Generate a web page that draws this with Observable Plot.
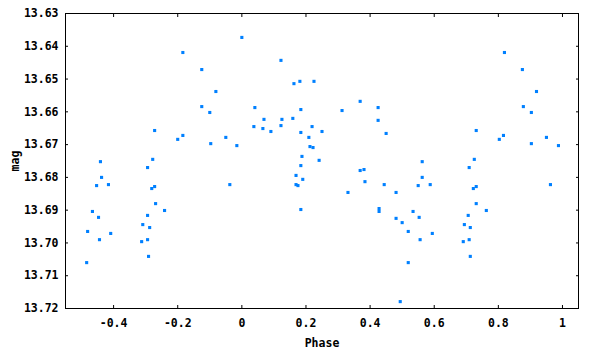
<!DOCTYPE html>
<html>
<head>
<meta charset="utf-8">
<script src="https://cdn.jsdelivr.net/npm/d3@7"></script>
<script src="https://cdn.jsdelivr.net/npm/@observablehq/plot@0.6"></script>
<style>
  html, body { margin: 0; padding: 0; background: #fff; }
</style>
</head>
<body>
<div id="chart"></div>
<script>
const phase = [
  -0.484, -0.481, -0.466, -0.453, -0.447, -0.444, -0.441, -0.4375, -0.416, -0.409,
  -0.3125, -0.309, -0.294, -0.294, -0.294, -0.291, -0.2875, -0.281, -0.278, -0.272, -0.272, -0.269, -0.241,
  -0.2, -0.184, -0.184, -0.125, -0.125, -0.1, -0.097, -0.081, -0.05, -0.0375, -0.0156, 0.0,
  0.0375, 0.0406, 0.0656, 0.069, 0.0906, 0.122, 0.122, 0.125, 0.159, 0.1625, 0.169, 0.169, 0.175, 0.181,
  0.184, 0.184, 0.184, 0.1875, 0.184, 0.19, 0.209, 0.2125, 0.219, 0.222, 0.225, 0.241, 0.25,
  0.3125, 0.331, 0.369, 0.369, 0.381, 0.384, 0.425, 0.425, 0.428, 0.428, 0.444, 0.45, 0.481, 0.481, 0.494, 0.5,
  0.519, 0.519, 0.534, 0.55, 0.553, 0.556, 0.5625, 0.5625, 0.5875, 0.594,
  0.6906, 0.694, 0.706, 0.709, 0.709, 0.7125, 0.7125, 0.722, 0.725, 0.731, 0.731, 0.731, 0.7625,
  0.803, 0.816, 0.819, 0.875, 0.878, 0.903, 0.903, 0.919, 0.95, 0.9625, 0.9875
];
const mag = [
  13.7060, 13.6965, 13.6904, 13.6825, 13.6922, 13.6990, 13.6752, 13.6800, 13.6822, 13.6971,
  13.6996, 13.6944, 13.6916, 13.6990, 13.6770, 13.7041, 13.6953, 13.6834, 13.6745, 13.6828, 13.6657, 13.6880, 13.6901,
  13.6684, 13.6672, 13.6419, 13.6471, 13.6584, 13.6602, 13.6697, 13.6538, 13.6678, 13.6822, 13.6703, 13.6373,
  13.6645, 13.6587, 13.6651, 13.6623, 13.6660, 13.6443, 13.6642, 13.6623, 13.6620, 13.6514, 13.6794, 13.6822, 13.6825, 13.6507,
  13.6593, 13.6663, 13.6764, 13.6736, 13.6898, 13.6806, 13.6678, 13.6706, 13.6645, 13.6709, 13.6507, 13.6748, 13.6660,
  13.6596, 13.6846, 13.6568, 13.6779, 13.6776, 13.6813, 13.6587, 13.6626, 13.6895, 13.6904, 13.6822, 13.6666, 13.6846, 13.6925, 13.7179, 13.6938,
  13.6965, 13.7060, 13.6904, 13.6825, 13.6922, 13.6990, 13.6752, 13.6800, 13.6822, 13.6971,
  13.6996, 13.6944, 13.6916, 13.6990, 13.6770, 13.7041, 13.6953, 13.6834, 13.6745, 13.6828, 13.6657, 13.6880, 13.6901,
  13.6684, 13.6672, 13.6419, 13.6471, 13.6584, 13.6602, 13.6697, 13.6538, 13.6678, 13.6822, 13.6703
];
const xTicks = [-0.4, -0.2, 0, 0.2, 0.4, 0.6, 0.8, 1];
const xTickLabels = ["-0.4", "-0.2", "0", "0.2", "0.4", "0.6", "0.8", "1"];
const yTicks = [13.63, 13.64, 13.65, 13.66, 13.67, 13.68, 13.69, 13.70, 13.71, 13.72];
const yTickLabels = ["13.63", "13.64", "13.65", "13.66", "13.67", "13.68", "13.69", "13.70", "13.71", "13.72"];

const data = phase.map((p, i) => ({phase: p, mag: mag[i]}));
const fx = d => xTickLabels[xTicks.findIndex(t => Math.abs(t - d) < 1e-9)];
const fy = d => yTickLabels[yTicks.findIndex(t => Math.abs(t - d) < 1e-9)];
const blank = () => "";

const chart = Plot.plot({
  width: 600,
  height: 350,
  marginLeft: 65,
  marginRight: 22,
  marginTop: 13,
  marginBottom: 42,
  style: {
    fontFamily: "'DejaVu Sans Mono', monospace",
    fontWeight: "bold",
    fontSize: "11.5px",
    color: "black",
    background: "white",
    overflow: "visible"
  },
  x: {domain: [-0.55, 1.05]},
  y: {domain: [13.63, 13.72], reverse: true},
  marks: [
    Plot.dot(data, {x: "phase", y: "mag", symbol: "square", r: 1.75, fill: "#0080ff", stroke: "none"}),
    Plot.frame({stroke: "black", strokeWidth: 1}),
    Plot.axisX(xTicks, {anchor: "bottom", tickSize: 0, tickPadding: 10, tickFormat: fx,
      label: "Phase", labelAnchor: "center", labelArrow: "none", labelOffset: 38}),
    Plot.axisX(xTicks, {anchor: "bottom", tickSize: -3, tickFormat: blank, label: null}),
    Plot.axisX(xTicks, {anchor: "top", tickSize: -3, tickFormat: blank, label: null}),
    Plot.axisY(yTicks, {anchor: "left", tickSize: 0, tickPadding: 7, tickFormat: fy,
      label: "mag", labelAnchor: "center", labelArrow: "none", labelOffset: 55}),
    Plot.axisY(yTicks, {anchor: "left", tickSize: -3, tickFormat: blank, label: null}),
    Plot.axisY(yTicks, {anchor: "right", tickSize: -3, tickFormat: blank, label: null})
  ]
});
document.getElementById("chart").appendChild(chart);
</script>
</body>
</html>
